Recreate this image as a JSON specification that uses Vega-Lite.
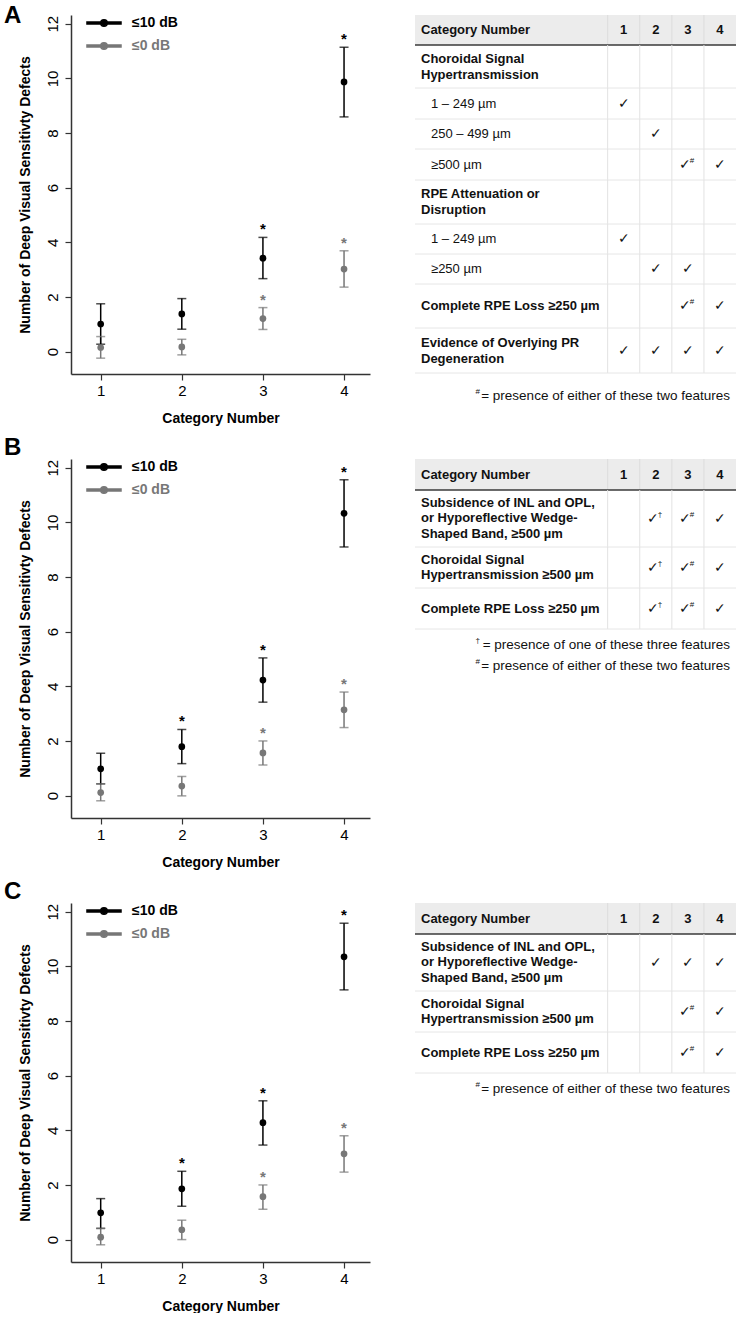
{
"$schema":"https://vega.github.io/schema/vega-lite/v6.json",
"padding":{"left":4,"top":3,"right":0,"bottom":0},
"background":"#ffffff",
"config":{"view":{"stroke":null},"font":"Liberation Sans","axis":{"domainColor":"#333333","tickColor":"#333333","labelColor":"#000000","titleColor":"#000000","grid":false},"title":{"color":"#000000"}},
"datasets":{
"pts":[
{"p":"A","cat":1,"s":"≤0 dB","m":0.15,"lo":-0.24,"hi":0.55,"sig":false},
{"p":"A","cat":2,"s":"≤0 dB","m":0.17,"lo":-0.12,"hi":0.45,"sig":false},
{"p":"A","cat":3,"s":"≤0 dB","m":1.21,"lo":0.81,"hi":1.61,"sig":true},
{"p":"A","cat":4,"s":"≤0 dB","m":3.02,"lo":2.36,"hi":3.69,"sig":true},
{"p":"A","cat":1,"s":"≤10 dB","m":1.01,"lo":0.27,"hi":1.75,"sig":false},
{"p":"A","cat":2,"s":"≤10 dB","m":1.38,"lo":0.82,"hi":1.94,"sig":false},
{"p":"A","cat":3,"s":"≤10 dB","m":3.42,"lo":2.67,"hi":4.18,"sig":true},
{"p":"A","cat":4,"s":"≤10 dB","m":9.87,"lo":8.59,"hi":11.14,"sig":true},
{"p":"B","cat":1,"s":"≤0 dB","m":0.11,"lo":-0.19,"hi":0.43,"sig":false},
{"p":"B","cat":2,"s":"≤0 dB","m":0.35,"lo":-0.01,"hi":0.70,"sig":false},
{"p":"B","cat":3,"s":"≤0 dB","m":1.56,"lo":1.12,"hi":2.0,"sig":true},
{"p":"B","cat":4,"s":"≤0 dB","m":3.14,"lo":2.49,"hi":3.79,"sig":true},
{"p":"B","cat":1,"s":"≤10 dB","m":0.98,"lo":0.43,"hi":1.55,"sig":false},
{"p":"B","cat":2,"s":"≤10 dB","m":1.79,"lo":1.17,"hi":2.42,"sig":true},
{"p":"B","cat":3,"s":"≤10 dB","m":4.23,"lo":3.42,"hi":5.04,"sig":true},
{"p":"B","cat":4,"s":"≤10 dB","m":10.33,"lo":9.10,"hi":11.56,"sig":true},
{"p":"C","cat":1,"s":"≤0 dB","m":0.09,"lo":-0.19,"hi":0.41,"sig":false},
{"p":"C","cat":2,"s":"≤0 dB","m":0.36,"lo":0.0,"hi":0.71,"sig":false},
{"p":"C","cat":3,"s":"≤0 dB","m":1.57,"lo":1.11,"hi":2.0,"sig":true},
{"p":"C","cat":4,"s":"≤0 dB","m":3.14,"lo":2.47,"hi":3.80,"sig":true},
{"p":"C","cat":1,"s":"≤10 dB","m":0.98,"lo":0.41,"hi":1.50,"sig":false},
{"p":"C","cat":2,"s":"≤10 dB","m":1.86,"lo":1.22,"hi":2.50,"sig":true},
{"p":"C","cat":3,"s":"≤10 dB","m":4.28,"lo":3.46,"hi":5.08,"sig":true},
{"p":"C","cat":4,"s":"≤10 dB","m":10.35,"lo":9.14,"hi":11.58,"sig":true}
],
"tA":[
{"r":0,"c":0,"t":"Category Number"},{"r":0,"c":1,"t":"1"},{"r":0,"c":2,"t":"2"},{"r":0,"c":3,"t":"3"},{"r":0,"c":4,"t":"4"},
{"r":1,"c":0,"t":"Choroidal Signal|Hypertransmission"},{"r":1,"c":1},{"r":1,"c":2},{"r":1,"c":3},{"r":1,"c":4},
{"r":2,"c":0,"t":"1 – 249 µm"},{"r":2,"c":1,"t":"✓"},{"r":2,"c":2},{"r":2,"c":3},{"r":2,"c":4},
{"r":3,"c":0,"t":"250 – 499 µm"},{"r":3,"c":1},{"r":3,"c":2,"t":"✓"},{"r":3,"c":3},{"r":3,"c":4},
{"r":4,"c":0,"t":"≥500 µm"},{"r":4,"c":1},{"r":4,"c":2},{"r":4,"c":3,"t":"✓","s":"#"},{"r":4,"c":4,"t":"✓"},
{"r":5,"c":0,"t":"RPE Attenuation or|Disruption"},{"r":5,"c":1},{"r":5,"c":2},{"r":5,"c":3},{"r":5,"c":4},
{"r":6,"c":0,"t":"1 – 249 µm"},{"r":6,"c":1,"t":"✓"},{"r":6,"c":2},{"r":6,"c":3},{"r":6,"c":4},
{"r":7,"c":0,"t":"≥250 µm"},{"r":7,"c":1},{"r":7,"c":2,"t":"✓"},{"r":7,"c":3,"t":"✓"},{"r":7,"c":4},
{"r":8,"c":0,"t":"Complete RPE Loss ≥250 µm"},{"r":8,"c":1},{"r":8,"c":2},{"r":8,"c":3,"t":"✓","s":"#"},{"r":8,"c":4,"t":"✓"},
{"r":9,"c":0,"t":"Evidence of Overlying PR|Degeneration"},{"r":9,"c":1,"t":"✓"},{"r":9,"c":2,"t":"✓"},{"r":9,"c":3,"t":"✓"},{"r":9,"c":4,"t":"✓"}
],
"tB":[
{"r":0,"c":0,"t":"Category Number"},{"r":0,"c":1,"t":"1"},{"r":0,"c":2,"t":"2"},{"r":0,"c":3,"t":"3"},{"r":0,"c":4,"t":"4"},
{"r":1,"c":0,"t":"Subsidence of INL and OPL,|or Hyporeflective Wedge-|Shaped Band, ≥500 µm"},{"r":1,"c":1},{"r":1,"c":2,"t":"✓","s":"†"},{"r":1,"c":3,"t":"✓","s":"#"},{"r":1,"c":4,"t":"✓"},
{"r":2,"c":0,"t":"Choroidal Signal|Hypertransmission ≥500 µm"},{"r":2,"c":1},{"r":2,"c":2,"t":"✓","s":"†"},{"r":2,"c":3,"t":"✓","s":"#"},{"r":2,"c":4,"t":"✓"},
{"r":3,"c":0,"t":"Complete RPE Loss ≥250 µm"},{"r":3,"c":1},{"r":3,"c":2,"t":"✓","s":"†"},{"r":3,"c":3,"t":"✓","s":"#"},{"r":3,"c":4,"t":"✓"}
],
"tC":[
{"r":0,"c":0,"t":"Category Number"},{"r":0,"c":1,"t":"1"},{"r":0,"c":2,"t":"2"},{"r":0,"c":3,"t":"3"},{"r":0,"c":4,"t":"4"},
{"r":1,"c":0,"t":"Subsidence of INL and OPL,|or Hyporeflective Wedge-|Shaped Band, ≥500 µm"},{"r":1,"c":1},{"r":1,"c":2,"t":"✓"},{"r":1,"c":3,"t":"✓"},{"r":1,"c":4,"t":"✓"},
{"r":2,"c":0,"t":"Choroidal Signal|Hypertransmission ≥500 µm"},{"r":2,"c":1},{"r":2,"c":2},{"r":2,"c":3,"t":"✓","s":"#"},{"r":2,"c":4,"t":"✓"},
{"r":3,"c":0,"t":"Complete RPE Loss ≥250 µm"},{"r":3,"c":1},{"r":3,"c":2},{"r":3,"c":3,"t":"✓","s":"#"},{"r":3,"c":4,"t":"✓"}
],
"fn":[
{"tb":"A","i":1,"m":"#","t":"= presence of either of these two features"},
{"tb":"B","i":1,"m":"†","t":"= presence of one of these three features"},
{"tb":"B","i":2,"m":"#","t":"= presence of either of these two features"},
{"tb":"C","i":1,"m":"#","t":"= presence of either of these two features"}
]
},
"spacing":10,
"resolve":{"scale":{"color":"independent"},"legend":{"color":"independent"}},
"vconcat":[
{"title":{"text":"A","anchor":"start","fontSize":24,"fontWeight":"bold","dx":-14,"offset":-13},
"spacing":44,
"resolve":{"scale":{"color":"independent"},"legend":{"color":"independent"}},
"hconcat":[
{"width":299,"height":359,"data":{"name":"pts"},"transform":[{"filter":"datum.p=='A'"}],
"encoding":{
"x":{"field":"cat","type":"quantitative","title":"Category Number","scale":{"domain":[0.634,4.32],"nice":false,"zero":false},"axis":{"values":[1,2,3,4],"format":"d","labelAngle":0,"labelPadding":3,"tickSize":6,"titlePadding":13,"labelFontSize":15,"titleFontSize":14,"titleFontWeight":"bold","domainWidth":1.5,"tickWidth":1.2}},
"color":{"field":"s","type":"nominal","scale":{"domain":["≤10 dB","≤0 dB"],"range":["#000000","#777777"]},"legend":{"title":null,"orient":"top-left","offset":0,"padding":0,"symbolType":"M1.14,-0.13H3.1V0.13H1.14Z M4.04,-0.13H6V0.13H4.04Z M4.04,0A0.47,0.47 0 1,1 3.1,0A0.47,0.47 0 1,1 4.04,0Z","symbolSize":196,"labelFontSize":14,"labelFontWeight":"bold","labelOffset":45,"rowPadding":8,"encode":{"symbols":{"update":{"fill":{"signal":"datum.value=='≤0 dB'?'#777777':'#000000'"},"stroke":{"value":"transparent"},"opacity":{"value":1}}},"labels":{"update":{"fill":{"signal":"datum.value=='≤0 dB'?'#777777':'#000000'"}}}}}}
},
"layer":[
{"mark":{"type":"rule","strokeWidth":1.5},"encoding":{"y":{"field":"lo","type":"quantitative","title":"Number of Deep Visual Sensitivty Defects","scale":{"domain":[-0.82,12.32],"nice":false,"zero":false},"axis":{"values":[0,2,4,6,8,10,12],"labelAngle":-90,"labelAlign":"center","labelBaseline":"bottom","labelPadding":5,"tickSize":6,"titlePadding":13,"labelFontSize":15,"titleFontSize":14,"titleFontWeight":"bold","domainWidth":1.5,"tickWidth":1.2}},"y2":{"field":"hi"}}},
{"mark":{"type":"tick","orient":"horizontal","size":9,"thickness":1.5},"encoding":{"y":{"field":"lo","type":"quantitative","title":"Number of Deep Visual Sensitivty Defects","scale":{"domain":[-0.82,12.32],"nice":false,"zero":false}}}},
{"mark":{"type":"tick","orient":"horizontal","size":9,"thickness":1.5},"encoding":{"y":{"field":"hi","type":"quantitative","title":"Number of Deep Visual Sensitivty Defects","scale":{"domain":[-0.82,12.32],"nice":false,"zero":false}}}},
{"mark":{"type":"point","filled":true,"size":45,"opacity":1},"encoding":{"y":{"field":"m","type":"quantitative","title":"Number of Deep Visual Sensitivty Defects","scale":{"domain":[-0.82,12.32],"nice":false,"zero":false}}}},
{"transform":[{"filter":"datum.sig"}],"mark":{"type":"text","text":"*","fontSize":15,"fontWeight":"bold","dy":-8},"encoding":{"y":{"field":"hi","type":"quantitative","title":"Number of Deep Visual Sensitivty Defects","scale":{"domain":[-0.82,12.32],"nice":false,"zero":false}}}}
]},
{"data":{"name":"tA"},"spacing":0,"bounds":"flush","vconcat":[
{"width":321,"height":30,"transform":[{"filter":"datum.r==0"}],"layer":[
{"transform":[{"filter":"datum.c==0"}],"mark":{"type":"rect","color":"#ececec"},"encoding":{"x":{"datum":-5.5,"type":"quantitative","scale":{"domain":[-5.5,4.5]},"axis":null},"x2":{"datum":4.5},"y":{"datum":0,"type":"quantitative","scale":{"domain":[0,1]},"axis":null},"y2":{"datum":1}}},
{"transform":[{"filter":"datum.c>0"}],"mark":{"type":"rule","color":"#dcdcdc","xOffset":-16},"encoding":{"x":{"field":"c","type":"quantitative","scale":{"domain":[-5.5,4.5]},"axis":null},"y":{"datum":0,"type":"quantitative","scale":{"domain":[0,1]},"axis":null},"y2":{"datum":1}}},
{"transform":[{"filter":"datum.c==0"}],"mark":{"type":"rule","color":"#3a3a3a","strokeWidth":1.5},"encoding":{"x":{"datum":-5.5,"type":"quantitative","scale":{"domain":[-5.5,4.5]},"axis":null},"x2":{"datum":4.5},"y":{"datum":0,"type":"quantitative","scale":{"domain":[0,1]},"axis":null}}},
{"transform":[{"filter":"datum.c==0"}],"mark":{"type":"text","align":"left","dx":6,"fontSize":13,"fontWeight":"bold","color":"#111111"},"encoding":{"x":{"datum":-5.5,"type":"quantitative","scale":{"domain":[-5.5,4.5]},"axis":null},"y":{"datum":0.5,"type":"quantitative","scale":{"domain":[0,1]},"axis":null},"text":{"field":"t","type":"nominal"}}},
{"transform":[{"filter":"datum.c>0"}],"mark":{"type":"text","fontSize":13,"fontWeight":"bold","color":"#111111"},"encoding":{"x":{"field":"c","type":"quantitative","scale":{"domain":[-5.5,4.5]},"axis":null},"y":{"datum":0.5,"type":"quantitative","scale":{"domain":[0,1]},"axis":null},"text":{"field":"t","type":"nominal"}}}
]},
{"width":321,"height":43,"transform":[{"filter":"datum.r==1"}],"layer":[
{"transform":[{"filter":"datum.c>0"}],"mark":{"type":"rule","color":"#e2e2e2","xOffset":-16},"encoding":{"x":{"field":"c","type":"quantitative","scale":{"domain":[-5.5,4.5]},"axis":null},"y":{"datum":0,"type":"quantitative","scale":{"domain":[0,1]},"axis":null},"y2":{"datum":1}}},
{"transform":[{"filter":"datum.c==0"}],"mark":{"type":"rule","color":"#e6e6e6"},"encoding":{"x":{"datum":-5.5,"type":"quantitative","scale":{"domain":[-5.5,4.5]},"axis":null},"x2":{"datum":4.5},"y":{"datum":0,"type":"quantitative","scale":{"domain":[0,1]},"axis":null}}},
{"transform":[{"filter":"datum.c==0"}],"mark":{"type":"text","align":"left","dx":6,"dy":-8,"fontSize":13,"fontWeight":"bold","lineHeight":16,"lineBreak":"|","color":"#111111"},"encoding":{"x":{"datum":-5.5,"type":"quantitative","scale":{"domain":[-5.5,4.5]},"axis":null},"y":{"datum":0.5,"type":"quantitative","scale":{"domain":[0,1]},"axis":null},"text":{"field":"t","type":"nominal"}}}
]},
{"width":321,"height":31,"transform":[{"filter":"datum.r==2"}],"layer":[
{"transform":[{"filter":"datum.c>0"}],"mark":{"type":"rule","color":"#e2e2e2","xOffset":-16},"encoding":{"x":{"field":"c","type":"quantitative","scale":{"domain":[-5.5,4.5]},"axis":null},"y":{"datum":0,"type":"quantitative","scale":{"domain":[0,1]},"axis":null},"y2":{"datum":1}}},
{"transform":[{"filter":"datum.c==0"}],"mark":{"type":"rule","color":"#e6e6e6"},"encoding":{"x":{"datum":-5.5,"type":"quantitative","scale":{"domain":[-5.5,4.5]},"axis":null},"x2":{"datum":4.5},"y":{"datum":0,"type":"quantitative","scale":{"domain":[0,1]},"axis":null}}},
{"transform":[{"filter":"datum.c==0"}],"mark":{"type":"text","align":"left","dx":16,"fontSize":13,"color":"#111111"},"encoding":{"x":{"datum":-5.5,"type":"quantitative","scale":{"domain":[-5.5,4.5]},"axis":null},"y":{"datum":0.5,"type":"quantitative","scale":{"domain":[0,1]},"axis":null},"text":{"field":"t","type":"nominal"}}},
{"transform":[{"filter":"datum.c>0 && datum.t && !datum.s"}],"mark":{"type":"text","fontSize":14,"color":"#111111"},"encoding":{"x":{"field":"c","type":"quantitative","scale":{"domain":[-5.5,4.5]},"axis":null},"y":{"datum":0.5,"type":"quantitative","scale":{"domain":[0,1]},"axis":null},"text":{"field":"t","type":"nominal"}}}
]},
{"width":321,"height":30,"transform":[{"filter":"datum.r==3"}],"layer":[
{"transform":[{"filter":"datum.c>0"}],"mark":{"type":"rule","color":"#e2e2e2","xOffset":-16},"encoding":{"x":{"field":"c","type":"quantitative","scale":{"domain":[-5.5,4.5]},"axis":null},"y":{"datum":0,"type":"quantitative","scale":{"domain":[0,1]},"axis":null},"y2":{"datum":1}}},
{"transform":[{"filter":"datum.c==0"}],"mark":{"type":"rule","color":"#e6e6e6"},"encoding":{"x":{"datum":-5.5,"type":"quantitative","scale":{"domain":[-5.5,4.5]},"axis":null},"x2":{"datum":4.5},"y":{"datum":0,"type":"quantitative","scale":{"domain":[0,1]},"axis":null}}},
{"transform":[{"filter":"datum.c==0"}],"mark":{"type":"text","align":"left","dx":16,"fontSize":13,"color":"#111111"},"encoding":{"x":{"datum":-5.5,"type":"quantitative","scale":{"domain":[-5.5,4.5]},"axis":null},"y":{"datum":0.5,"type":"quantitative","scale":{"domain":[0,1]},"axis":null},"text":{"field":"t","type":"nominal"}}},
{"transform":[{"filter":"datum.c>0 && datum.t && !datum.s"}],"mark":{"type":"text","fontSize":14,"color":"#111111"},"encoding":{"x":{"field":"c","type":"quantitative","scale":{"domain":[-5.5,4.5]},"axis":null},"y":{"datum":0.5,"type":"quantitative","scale":{"domain":[0,1]},"axis":null},"text":{"field":"t","type":"nominal"}}}
]},
{"width":321,"height":31,"transform":[{"filter":"datum.r==4"}],"layer":[
{"transform":[{"filter":"datum.c>0"}],"mark":{"type":"rule","color":"#e2e2e2","xOffset":-16},"encoding":{"x":{"field":"c","type":"quantitative","scale":{"domain":[-5.5,4.5]},"axis":null},"y":{"datum":0,"type":"quantitative","scale":{"domain":[0,1]},"axis":null},"y2":{"datum":1}}},
{"transform":[{"filter":"datum.c==0"}],"mark":{"type":"rule","color":"#e6e6e6"},"encoding":{"x":{"datum":-5.5,"type":"quantitative","scale":{"domain":[-5.5,4.5]},"axis":null},"x2":{"datum":4.5},"y":{"datum":0,"type":"quantitative","scale":{"domain":[0,1]},"axis":null}}},
{"transform":[{"filter":"datum.c==0"}],"mark":{"type":"text","align":"left","dx":16,"fontSize":13,"color":"#111111"},"encoding":{"x":{"datum":-5.5,"type":"quantitative","scale":{"domain":[-5.5,4.5]},"axis":null},"y":{"datum":0.5,"type":"quantitative","scale":{"domain":[0,1]},"axis":null},"text":{"field":"t","type":"nominal"}}},
{"transform":[{"filter":"datum.c>0 && datum.t && !datum.s"}],"mark":{"type":"text","fontSize":14,"color":"#111111"},"encoding":{"x":{"field":"c","type":"quantitative","scale":{"domain":[-5.5,4.5]},"axis":null},"y":{"datum":0.5,"type":"quantitative","scale":{"domain":[0,1]},"axis":null},"text":{"field":"t","type":"nominal"}}},
{"transform":[{"filter":"datum.s"}],"mark":{"type":"text","fontSize":14,"dx":-3,"color":"#111111"},"encoding":{"x":{"field":"c","type":"quantitative","scale":{"domain":[-5.5,4.5]},"axis":null},"y":{"datum":0.5,"type":"quantitative","scale":{"domain":[0,1]},"axis":null},"text":{"field":"t","type":"nominal"}}},
{"transform":[{"filter":"datum.s"}],"mark":{"type":"text","fontSize":8,"align":"left","dx":2,"dy":-4,"color":"#111111"},"encoding":{"x":{"field":"c","type":"quantitative","scale":{"domain":[-5.5,4.5]},"axis":null},"y":{"datum":0.5,"type":"quantitative","scale":{"domain":[0,1]},"axis":null},"text":{"field":"s","type":"nominal"}}}
]},
{"width":321,"height":44,"transform":[{"filter":"datum.r==5"}],"layer":[
{"transform":[{"filter":"datum.c>0"}],"mark":{"type":"rule","color":"#e2e2e2","xOffset":-16},"encoding":{"x":{"field":"c","type":"quantitative","scale":{"domain":[-5.5,4.5]},"axis":null},"y":{"datum":0,"type":"quantitative","scale":{"domain":[0,1]},"axis":null},"y2":{"datum":1}}},
{"transform":[{"filter":"datum.c==0"}],"mark":{"type":"rule","color":"#e6e6e6"},"encoding":{"x":{"datum":-5.5,"type":"quantitative","scale":{"domain":[-5.5,4.5]},"axis":null},"x2":{"datum":4.5},"y":{"datum":0,"type":"quantitative","scale":{"domain":[0,1]},"axis":null}}},
{"transform":[{"filter":"datum.c==0"}],"mark":{"type":"text","align":"left","dx":6,"dy":-8,"fontSize":13,"fontWeight":"bold","lineHeight":16,"lineBreak":"|","color":"#111111"},"encoding":{"x":{"datum":-5.5,"type":"quantitative","scale":{"domain":[-5.5,4.5]},"axis":null},"y":{"datum":0.5,"type":"quantitative","scale":{"domain":[0,1]},"axis":null},"text":{"field":"t","type":"nominal"}}}
]},
{"width":321,"height":30,"transform":[{"filter":"datum.r==6"}],"layer":[
{"transform":[{"filter":"datum.c>0"}],"mark":{"type":"rule","color":"#e2e2e2","xOffset":-16},"encoding":{"x":{"field":"c","type":"quantitative","scale":{"domain":[-5.5,4.5]},"axis":null},"y":{"datum":0,"type":"quantitative","scale":{"domain":[0,1]},"axis":null},"y2":{"datum":1}}},
{"transform":[{"filter":"datum.c==0"}],"mark":{"type":"rule","color":"#e6e6e6"},"encoding":{"x":{"datum":-5.5,"type":"quantitative","scale":{"domain":[-5.5,4.5]},"axis":null},"x2":{"datum":4.5},"y":{"datum":0,"type":"quantitative","scale":{"domain":[0,1]},"axis":null}}},
{"transform":[{"filter":"datum.c==0"}],"mark":{"type":"text","align":"left","dx":16,"fontSize":13,"color":"#111111"},"encoding":{"x":{"datum":-5.5,"type":"quantitative","scale":{"domain":[-5.5,4.5]},"axis":null},"y":{"datum":0.5,"type":"quantitative","scale":{"domain":[0,1]},"axis":null},"text":{"field":"t","type":"nominal"}}},
{"transform":[{"filter":"datum.c>0 && datum.t && !datum.s"}],"mark":{"type":"text","fontSize":14,"color":"#111111"},"encoding":{"x":{"field":"c","type":"quantitative","scale":{"domain":[-5.5,4.5]},"axis":null},"y":{"datum":0.5,"type":"quantitative","scale":{"domain":[0,1]},"axis":null},"text":{"field":"t","type":"nominal"}}}
]},
{"width":321,"height":30,"transform":[{"filter":"datum.r==7"}],"layer":[
{"transform":[{"filter":"datum.c>0"}],"mark":{"type":"rule","color":"#e2e2e2","xOffset":-16},"encoding":{"x":{"field":"c","type":"quantitative","scale":{"domain":[-5.5,4.5]},"axis":null},"y":{"datum":0,"type":"quantitative","scale":{"domain":[0,1]},"axis":null},"y2":{"datum":1}}},
{"transform":[{"filter":"datum.c==0"}],"mark":{"type":"rule","color":"#e6e6e6"},"encoding":{"x":{"datum":-5.5,"type":"quantitative","scale":{"domain":[-5.5,4.5]},"axis":null},"x2":{"datum":4.5},"y":{"datum":0,"type":"quantitative","scale":{"domain":[0,1]},"axis":null}}},
{"transform":[{"filter":"datum.c==0"}],"mark":{"type":"text","align":"left","dx":16,"fontSize":13,"color":"#111111"},"encoding":{"x":{"datum":-5.5,"type":"quantitative","scale":{"domain":[-5.5,4.5]},"axis":null},"y":{"datum":0.5,"type":"quantitative","scale":{"domain":[0,1]},"axis":null},"text":{"field":"t","type":"nominal"}}},
{"transform":[{"filter":"datum.c>0 && datum.t && !datum.s"}],"mark":{"type":"text","fontSize":14,"color":"#111111"},"encoding":{"x":{"field":"c","type":"quantitative","scale":{"domain":[-5.5,4.5]},"axis":null},"y":{"datum":0.5,"type":"quantitative","scale":{"domain":[0,1]},"axis":null},"text":{"field":"t","type":"nominal"}}}
]},
{"width":321,"height":44,"transform":[{"filter":"datum.r==8"}],"layer":[
{"transform":[{"filter":"datum.c>0"}],"mark":{"type":"rule","color":"#e2e2e2","xOffset":-16},"encoding":{"x":{"field":"c","type":"quantitative","scale":{"domain":[-5.5,4.5]},"axis":null},"y":{"datum":0,"type":"quantitative","scale":{"domain":[0,1]},"axis":null},"y2":{"datum":1}}},
{"transform":[{"filter":"datum.c==0"}],"mark":{"type":"rule","color":"#e6e6e6"},"encoding":{"x":{"datum":-5.5,"type":"quantitative","scale":{"domain":[-5.5,4.5]},"axis":null},"x2":{"datum":4.5},"y":{"datum":0,"type":"quantitative","scale":{"domain":[0,1]},"axis":null}}},
{"transform":[{"filter":"datum.c==0"}],"mark":{"type":"text","align":"left","dx":6,"fontSize":13,"fontWeight":"bold","color":"#111111"},"encoding":{"x":{"datum":-5.5,"type":"quantitative","scale":{"domain":[-5.5,4.5]},"axis":null},"y":{"datum":0.5,"type":"quantitative","scale":{"domain":[0,1]},"axis":null},"text":{"field":"t","type":"nominal"}}},
{"transform":[{"filter":"datum.c>0 && datum.t && !datum.s"}],"mark":{"type":"text","fontSize":14,"color":"#111111"},"encoding":{"x":{"field":"c","type":"quantitative","scale":{"domain":[-5.5,4.5]},"axis":null},"y":{"datum":0.5,"type":"quantitative","scale":{"domain":[0,1]},"axis":null},"text":{"field":"t","type":"nominal"}}},
{"transform":[{"filter":"datum.s"}],"mark":{"type":"text","fontSize":14,"dx":-3,"color":"#111111"},"encoding":{"x":{"field":"c","type":"quantitative","scale":{"domain":[-5.5,4.5]},"axis":null},"y":{"datum":0.5,"type":"quantitative","scale":{"domain":[0,1]},"axis":null},"text":{"field":"t","type":"nominal"}}},
{"transform":[{"filter":"datum.s"}],"mark":{"type":"text","fontSize":8,"align":"left","dx":2,"dy":-4,"color":"#111111"},"encoding":{"x":{"field":"c","type":"quantitative","scale":{"domain":[-5.5,4.5]},"axis":null},"y":{"datum":0.5,"type":"quantitative","scale":{"domain":[0,1]},"axis":null},"text":{"field":"s","type":"nominal"}}}
]},
{"width":321,"height":45,"transform":[{"filter":"datum.r==9"}],"layer":[
{"transform":[{"filter":"datum.c>0"}],"mark":{"type":"rule","color":"#e2e2e2","xOffset":-16},"encoding":{"x":{"field":"c","type":"quantitative","scale":{"domain":[-5.5,4.5]},"axis":null},"y":{"datum":0,"type":"quantitative","scale":{"domain":[0,1]},"axis":null},"y2":{"datum":1}}},
{"transform":[{"filter":"datum.c==0"}],"mark":{"type":"rule","color":"#e6e6e6"},"encoding":{"x":{"datum":-5.5,"type":"quantitative","scale":{"domain":[-5.5,4.5]},"axis":null},"x2":{"datum":4.5},"y":{"datum":0,"type":"quantitative","scale":{"domain":[0,1]},"axis":null}}},
{"transform":[{"filter":"datum.c==0"}],"mark":{"type":"text","align":"left","dx":6,"dy":-8,"fontSize":13,"fontWeight":"bold","lineHeight":16,"lineBreak":"|","color":"#111111"},"encoding":{"x":{"datum":-5.5,"type":"quantitative","scale":{"domain":[-5.5,4.5]},"axis":null},"y":{"datum":0.5,"type":"quantitative","scale":{"domain":[0,1]},"axis":null},"text":{"field":"t","type":"nominal"}}},
{"transform":[{"filter":"datum.c>0 && datum.t && !datum.s"}],"mark":{"type":"text","fontSize":14,"color":"#111111"},"encoding":{"x":{"field":"c","type":"quantitative","scale":{"domain":[-5.5,4.5]},"axis":null},"y":{"datum":0.5,"type":"quantitative","scale":{"domain":[0,1]},"axis":null},"text":{"field":"t","type":"nominal"}}}
]},
{"width":321,"height":46,"data":{"name":"fn"},"transform":[{"filter":"datum.tb=='A'"}],"layer":[
{"mark":{"type":"text","align":"right","dx":-6,"fontSize":13.5,"color":"#111111"},"encoding":{"x":{"datum":4.5,"type":"quantitative","scale":{"domain":[-5.5,4.5]},"axis":null},"y":{"field":"i","type":"ordinal","scale":{"type":"point","padding":0.5},"axis":null},"text":{"field":"t","type":"nominal"}}},
{"mark":{"type":"text","align":"right","dx":-256,"dy":-4,"fontSize":8,"color":"#111111"},"encoding":{"x":{"datum":4.5,"type":"quantitative","scale":{"domain":[-5.5,4.5]},"axis":null},"y":{"field":"i","type":"ordinal","scale":{"type":"point","padding":0.5},"axis":null},"text":{"field":"m","type":"nominal"}}}
]}
]}
]},
{"title":{"text":"B","anchor":"start","fontSize":24,"fontWeight":"bold","dx":-14,"offset":-1},
"spacing":44,
"resolve":{"scale":{"color":"independent"},"legend":{"color":"independent"}},
"hconcat":[
{"width":299,"height":359,"data":{"name":"pts"},"transform":[{"filter":"datum.p=='B'"}],
"encoding":{
"x":{"field":"cat","type":"quantitative","title":"Category Number","scale":{"domain":[0.634,4.32],"nice":false,"zero":false},"axis":{"values":[1,2,3,4],"format":"d","labelAngle":0,"labelPadding":3,"tickSize":6,"titlePadding":13,"labelFontSize":15,"titleFontSize":14,"titleFontWeight":"bold","domainWidth":1.5,"tickWidth":1.2}},
"color":{"field":"s","type":"nominal","scale":{"domain":["≤10 dB","≤0 dB"],"range":["#000000","#777777"]},"legend":{"title":null,"orient":"top-left","offset":0,"padding":0,"symbolType":"M1.14,-0.13H3.1V0.13H1.14Z M4.04,-0.13H6V0.13H4.04Z M4.04,0A0.47,0.47 0 1,1 3.1,0A0.47,0.47 0 1,1 4.04,0Z","symbolSize":196,"labelFontSize":14,"labelFontWeight":"bold","labelOffset":45,"rowPadding":8,"encode":{"symbols":{"update":{"fill":{"signal":"datum.value=='≤0 dB'?'#777777':'#000000'"},"stroke":{"value":"transparent"},"opacity":{"value":1}}},"labels":{"update":{"fill":{"signal":"datum.value=='≤0 dB'?'#777777':'#000000'"}}}}}}
},
"layer":[
{"mark":{"type":"rule","strokeWidth":1.5},"encoding":{"y":{"field":"lo","type":"quantitative","title":"Number of Deep Visual Sensitivty Defects","scale":{"domain":[-0.82,12.32],"nice":false,"zero":false},"axis":{"values":[0,2,4,6,8,10,12],"labelAngle":-90,"labelAlign":"center","labelBaseline":"bottom","labelPadding":5,"tickSize":6,"titlePadding":13,"labelFontSize":15,"titleFontSize":14,"titleFontWeight":"bold","domainWidth":1.5,"tickWidth":1.2}},"y2":{"field":"hi"}}},
{"mark":{"type":"tick","orient":"horizontal","size":9,"thickness":1.5},"encoding":{"y":{"field":"lo","type":"quantitative","title":"Number of Deep Visual Sensitivty Defects","scale":{"domain":[-0.82,12.32],"nice":false,"zero":false}}}},
{"mark":{"type":"tick","orient":"horizontal","size":9,"thickness":1.5},"encoding":{"y":{"field":"hi","type":"quantitative","title":"Number of Deep Visual Sensitivty Defects","scale":{"domain":[-0.82,12.32],"nice":false,"zero":false}}}},
{"mark":{"type":"point","filled":true,"size":45,"opacity":1},"encoding":{"y":{"field":"m","type":"quantitative","title":"Number of Deep Visual Sensitivty Defects","scale":{"domain":[-0.82,12.32],"nice":false,"zero":false}}}},
{"transform":[{"filter":"datum.sig"}],"mark":{"type":"text","text":"*","fontSize":15,"fontWeight":"bold","dy":-8},"encoding":{"y":{"field":"hi","type":"quantitative","title":"Number of Deep Visual Sensitivty Defects","scale":{"domain":[-0.82,12.32],"nice":false,"zero":false}}}}
]},
{"data":{"name":"tB"},"spacing":0,"bounds":"flush","vconcat":[
{"width":321,"height":31,"transform":[{"filter":"datum.r==0"}],"layer":[
{"transform":[{"filter":"datum.c==0"}],"mark":{"type":"rect","color":"#ececec"},"encoding":{"x":{"datum":-5.5,"type":"quantitative","scale":{"domain":[-5.5,4.5]},"axis":null},"x2":{"datum":4.5},"y":{"datum":0,"type":"quantitative","scale":{"domain":[0,1]},"axis":null},"y2":{"datum":1}}},
{"transform":[{"filter":"datum.c>0"}],"mark":{"type":"rule","color":"#dcdcdc","xOffset":-16},"encoding":{"x":{"field":"c","type":"quantitative","scale":{"domain":[-5.5,4.5]},"axis":null},"y":{"datum":0,"type":"quantitative","scale":{"domain":[0,1]},"axis":null},"y2":{"datum":1}}},
{"transform":[{"filter":"datum.c==0"}],"mark":{"type":"rule","color":"#3a3a3a","strokeWidth":1.5},"encoding":{"x":{"datum":-5.5,"type":"quantitative","scale":{"domain":[-5.5,4.5]},"axis":null},"x2":{"datum":4.5},"y":{"datum":0,"type":"quantitative","scale":{"domain":[0,1]},"axis":null}}},
{"transform":[{"filter":"datum.c==0"}],"mark":{"type":"text","align":"left","dx":6,"fontSize":13,"fontWeight":"bold","color":"#111111"},"encoding":{"x":{"datum":-5.5,"type":"quantitative","scale":{"domain":[-5.5,4.5]},"axis":null},"y":{"datum":0.5,"type":"quantitative","scale":{"domain":[0,1]},"axis":null},"text":{"field":"t","type":"nominal"}}},
{"transform":[{"filter":"datum.c>0"}],"mark":{"type":"text","fontSize":13,"fontWeight":"bold","color":"#111111"},"encoding":{"x":{"field":"c","type":"quantitative","scale":{"domain":[-5.5,4.5]},"axis":null},"y":{"datum":0.5,"type":"quantitative","scale":{"domain":[0,1]},"axis":null},"text":{"field":"t","type":"nominal"}}}
]},
{"width":321,"height":57,"transform":[{"filter":"datum.r==1"}],"layer":[
{"transform":[{"filter":"datum.c>0"}],"mark":{"type":"rule","color":"#e2e2e2","xOffset":-16},"encoding":{"x":{"field":"c","type":"quantitative","scale":{"domain":[-5.5,4.5]},"axis":null},"y":{"datum":0,"type":"quantitative","scale":{"domain":[0,1]},"axis":null},"y2":{"datum":1}}},
{"transform":[{"filter":"datum.c==0"}],"mark":{"type":"rule","color":"#e6e6e6"},"encoding":{"x":{"datum":-5.5,"type":"quantitative","scale":{"domain":[-5.5,4.5]},"axis":null},"x2":{"datum":4.5},"y":{"datum":0,"type":"quantitative","scale":{"domain":[0,1]},"axis":null}}},
{"transform":[{"filter":"datum.c==0"}],"mark":{"type":"text","align":"left","dx":6,"dy":-15.6,"fontSize":13,"fontWeight":"bold","lineHeight":15.6,"lineBreak":"|","color":"#111111"},"encoding":{"x":{"datum":-5.5,"type":"quantitative","scale":{"domain":[-5.5,4.5]},"axis":null},"y":{"datum":0.5,"type":"quantitative","scale":{"domain":[0,1]},"axis":null},"text":{"field":"t","type":"nominal"}}},
{"transform":[{"filter":"datum.c>0 && datum.t && !datum.s"}],"mark":{"type":"text","fontSize":14,"color":"#111111"},"encoding":{"x":{"field":"c","type":"quantitative","scale":{"domain":[-5.5,4.5]},"axis":null},"y":{"datum":0.5,"type":"quantitative","scale":{"domain":[0,1]},"axis":null},"text":{"field":"t","type":"nominal"}}},
{"transform":[{"filter":"datum.s"}],"mark":{"type":"text","fontSize":14,"dx":-3,"color":"#111111"},"encoding":{"x":{"field":"c","type":"quantitative","scale":{"domain":[-5.5,4.5]},"axis":null},"y":{"datum":0.5,"type":"quantitative","scale":{"domain":[0,1]},"axis":null},"text":{"field":"t","type":"nominal"}}},
{"transform":[{"filter":"datum.s"}],"mark":{"type":"text","fontSize":8,"align":"left","dx":2,"dy":-4,"color":"#111111"},"encoding":{"x":{"field":"c","type":"quantitative","scale":{"domain":[-5.5,4.5]},"axis":null},"y":{"datum":0.5,"type":"quantitative","scale":{"domain":[0,1]},"axis":null},"text":{"field":"s","type":"nominal"}}}
]},
{"width":321,"height":41,"transform":[{"filter":"datum.r==2"}],"layer":[
{"transform":[{"filter":"datum.c>0"}],"mark":{"type":"rule","color":"#e2e2e2","xOffset":-16},"encoding":{"x":{"field":"c","type":"quantitative","scale":{"domain":[-5.5,4.5]},"axis":null},"y":{"datum":0,"type":"quantitative","scale":{"domain":[0,1]},"axis":null},"y2":{"datum":1}}},
{"transform":[{"filter":"datum.c==0"}],"mark":{"type":"rule","color":"#e6e6e6"},"encoding":{"x":{"datum":-5.5,"type":"quantitative","scale":{"domain":[-5.5,4.5]},"axis":null},"x2":{"datum":4.5},"y":{"datum":0,"type":"quantitative","scale":{"domain":[0,1]},"axis":null}}},
{"transform":[{"filter":"datum.c==0"}],"mark":{"type":"text","align":"left","dx":6,"dy":-7.8,"fontSize":13,"fontWeight":"bold","lineHeight":15.6,"lineBreak":"|","color":"#111111"},"encoding":{"x":{"datum":-5.5,"type":"quantitative","scale":{"domain":[-5.5,4.5]},"axis":null},"y":{"datum":0.5,"type":"quantitative","scale":{"domain":[0,1]},"axis":null},"text":{"field":"t","type":"nominal"}}},
{"transform":[{"filter":"datum.c>0 && datum.t && !datum.s"}],"mark":{"type":"text","fontSize":14,"color":"#111111"},"encoding":{"x":{"field":"c","type":"quantitative","scale":{"domain":[-5.5,4.5]},"axis":null},"y":{"datum":0.5,"type":"quantitative","scale":{"domain":[0,1]},"axis":null},"text":{"field":"t","type":"nominal"}}},
{"transform":[{"filter":"datum.s"}],"mark":{"type":"text","fontSize":14,"dx":-3,"color":"#111111"},"encoding":{"x":{"field":"c","type":"quantitative","scale":{"domain":[-5.5,4.5]},"axis":null},"y":{"datum":0.5,"type":"quantitative","scale":{"domain":[0,1]},"axis":null},"text":{"field":"t","type":"nominal"}}},
{"transform":[{"filter":"datum.s"}],"mark":{"type":"text","fontSize":8,"align":"left","dx":2,"dy":-4,"color":"#111111"},"encoding":{"x":{"field":"c","type":"quantitative","scale":{"domain":[-5.5,4.5]},"axis":null},"y":{"datum":0.5,"type":"quantitative","scale":{"domain":[0,1]},"axis":null},"text":{"field":"s","type":"nominal"}}}
]},
{"width":321,"height":41,"transform":[{"filter":"datum.r==3"}],"layer":[
{"transform":[{"filter":"datum.c>0"}],"mark":{"type":"rule","color":"#e2e2e2","xOffset":-16},"encoding":{"x":{"field":"c","type":"quantitative","scale":{"domain":[-5.5,4.5]},"axis":null},"y":{"datum":0,"type":"quantitative","scale":{"domain":[0,1]},"axis":null},"y2":{"datum":1}}},
{"transform":[{"filter":"datum.c==0"}],"mark":{"type":"rule","color":"#e6e6e6"},"encoding":{"x":{"datum":-5.5,"type":"quantitative","scale":{"domain":[-5.5,4.5]},"axis":null},"x2":{"datum":4.5},"y":{"datum":0,"type":"quantitative","scale":{"domain":[0,1]},"axis":null}}},
{"transform":[{"filter":"datum.c==0"}],"mark":{"type":"text","align":"left","dx":6,"fontSize":13,"fontWeight":"bold","color":"#111111"},"encoding":{"x":{"datum":-5.5,"type":"quantitative","scale":{"domain":[-5.5,4.5]},"axis":null},"y":{"datum":0.5,"type":"quantitative","scale":{"domain":[0,1]},"axis":null},"text":{"field":"t","type":"nominal"}}},
{"transform":[{"filter":"datum.c>0 && datum.t && !datum.s"}],"mark":{"type":"text","fontSize":14,"color":"#111111"},"encoding":{"x":{"field":"c","type":"quantitative","scale":{"domain":[-5.5,4.5]},"axis":null},"y":{"datum":0.5,"type":"quantitative","scale":{"domain":[0,1]},"axis":null},"text":{"field":"t","type":"nominal"}}},
{"transform":[{"filter":"datum.s"}],"mark":{"type":"text","fontSize":14,"dx":-3,"color":"#111111"},"encoding":{"x":{"field":"c","type":"quantitative","scale":{"domain":[-5.5,4.5]},"axis":null},"y":{"datum":0.5,"type":"quantitative","scale":{"domain":[0,1]},"axis":null},"text":{"field":"t","type":"nominal"}}},
{"transform":[{"filter":"datum.s"}],"mark":{"type":"text","fontSize":8,"align":"left","dx":2,"dy":-4,"color":"#111111"},"encoding":{"x":{"field":"c","type":"quantitative","scale":{"domain":[-5.5,4.5]},"axis":null},"y":{"datum":0.5,"type":"quantitative","scale":{"domain":[0,1]},"axis":null},"text":{"field":"s","type":"nominal"}}}
]},
{"width":321,"height":53,"data":{"name":"fn"},"transform":[{"filter":"datum.tb=='B'"}],"layer":[
{"mark":{"type":"text","align":"right","dx":-6,"fontSize":13.5,"color":"#111111"},"encoding":{"x":{"datum":4.5,"type":"quantitative","scale":{"domain":[-5.5,4.5]},"axis":null},"y":{"field":"i","type":"ordinal","scale":{"type":"point","padding":0.71},"axis":null},"text":{"field":"t","type":"nominal"}}},
{"mark":{"type":"text","align":"right","dx":-256,"dy":-4,"fontSize":8,"color":"#111111"},"encoding":{"x":{"datum":4.5,"type":"quantitative","scale":{"domain":[-5.5,4.5]},"axis":null},"y":{"field":"i","type":"ordinal","scale":{"type":"point","padding":0.71},"axis":null},"text":{"field":"m","type":"nominal"}}}
]}
]}
]},
{"title":{"text":"C","anchor":"start","fontSize":24,"fontWeight":"bold","dx":-14,"offset":-1},
"spacing":44,
"resolve":{"scale":{"color":"independent"},"legend":{"color":"independent"}},
"hconcat":[
{"width":299,"height":359,"data":{"name":"pts"},"transform":[{"filter":"datum.p=='C'"}],
"encoding":{
"x":{"field":"cat","type":"quantitative","title":"Category Number","scale":{"domain":[0.634,4.32],"nice":false,"zero":false},"axis":{"values":[1,2,3,4],"format":"d","labelAngle":0,"labelPadding":3,"tickSize":6,"titlePadding":13,"labelFontSize":15,"titleFontSize":14,"titleFontWeight":"bold","domainWidth":1.5,"tickWidth":1.2}},
"color":{"field":"s","type":"nominal","scale":{"domain":["≤10 dB","≤0 dB"],"range":["#000000","#777777"]},"legend":{"title":null,"orient":"top-left","offset":0,"padding":0,"symbolType":"M1.14,-0.13H3.1V0.13H1.14Z M4.04,-0.13H6V0.13H4.04Z M4.04,0A0.47,0.47 0 1,1 3.1,0A0.47,0.47 0 1,1 4.04,0Z","symbolSize":196,"labelFontSize":14,"labelFontWeight":"bold","labelOffset":45,"rowPadding":8,"encode":{"symbols":{"update":{"fill":{"signal":"datum.value=='≤0 dB'?'#777777':'#000000'"},"stroke":{"value":"transparent"},"opacity":{"value":1}}},"labels":{"update":{"fill":{"signal":"datum.value=='≤0 dB'?'#777777':'#000000'"}}}}}}
},
"layer":[
{"mark":{"type":"rule","strokeWidth":1.5},"encoding":{"y":{"field":"lo","type":"quantitative","title":"Number of Deep Visual Sensitivty Defects","scale":{"domain":[-0.82,12.32],"nice":false,"zero":false},"axis":{"values":[0,2,4,6,8,10,12],"labelAngle":-90,"labelAlign":"center","labelBaseline":"bottom","labelPadding":5,"tickSize":6,"titlePadding":13,"labelFontSize":15,"titleFontSize":14,"titleFontWeight":"bold","domainWidth":1.5,"tickWidth":1.2}},"y2":{"field":"hi"}}},
{"mark":{"type":"tick","orient":"horizontal","size":9,"thickness":1.5},"encoding":{"y":{"field":"lo","type":"quantitative","title":"Number of Deep Visual Sensitivty Defects","scale":{"domain":[-0.82,12.32],"nice":false,"zero":false}}}},
{"mark":{"type":"tick","orient":"horizontal","size":9,"thickness":1.5},"encoding":{"y":{"field":"hi","type":"quantitative","title":"Number of Deep Visual Sensitivty Defects","scale":{"domain":[-0.82,12.32],"nice":false,"zero":false}}}},
{"mark":{"type":"point","filled":true,"size":45,"opacity":1},"encoding":{"y":{"field":"m","type":"quantitative","title":"Number of Deep Visual Sensitivty Defects","scale":{"domain":[-0.82,12.32],"nice":false,"zero":false}}}},
{"transform":[{"filter":"datum.sig"}],"mark":{"type":"text","text":"*","fontSize":15,"fontWeight":"bold","dy":-8},"encoding":{"y":{"field":"hi","type":"quantitative","title":"Number of Deep Visual Sensitivty Defects","scale":{"domain":[-0.82,12.32],"nice":false,"zero":false}}}}
]},
{"data":{"name":"tC"},"spacing":0,"bounds":"flush","vconcat":[
{"width":321,"height":31,"transform":[{"filter":"datum.r==0"}],"layer":[
{"transform":[{"filter":"datum.c==0"}],"mark":{"type":"rect","color":"#ececec"},"encoding":{"x":{"datum":-5.5,"type":"quantitative","scale":{"domain":[-5.5,4.5]},"axis":null},"x2":{"datum":4.5},"y":{"datum":0,"type":"quantitative","scale":{"domain":[0,1]},"axis":null},"y2":{"datum":1}}},
{"transform":[{"filter":"datum.c>0"}],"mark":{"type":"rule","color":"#dcdcdc","xOffset":-16},"encoding":{"x":{"field":"c","type":"quantitative","scale":{"domain":[-5.5,4.5]},"axis":null},"y":{"datum":0,"type":"quantitative","scale":{"domain":[0,1]},"axis":null},"y2":{"datum":1}}},
{"transform":[{"filter":"datum.c==0"}],"mark":{"type":"rule","color":"#3a3a3a","strokeWidth":1.5},"encoding":{"x":{"datum":-5.5,"type":"quantitative","scale":{"domain":[-5.5,4.5]},"axis":null},"x2":{"datum":4.5},"y":{"datum":0,"type":"quantitative","scale":{"domain":[0,1]},"axis":null}}},
{"transform":[{"filter":"datum.c==0"}],"mark":{"type":"text","align":"left","dx":6,"fontSize":13,"fontWeight":"bold","color":"#111111"},"encoding":{"x":{"datum":-5.5,"type":"quantitative","scale":{"domain":[-5.5,4.5]},"axis":null},"y":{"datum":0.5,"type":"quantitative","scale":{"domain":[0,1]},"axis":null},"text":{"field":"t","type":"nominal"}}},
{"transform":[{"filter":"datum.c>0"}],"mark":{"type":"text","fontSize":13,"fontWeight":"bold","color":"#111111"},"encoding":{"x":{"field":"c","type":"quantitative","scale":{"domain":[-5.5,4.5]},"axis":null},"y":{"datum":0.5,"type":"quantitative","scale":{"domain":[0,1]},"axis":null},"text":{"field":"t","type":"nominal"}}}
]},
{"width":321,"height":57,"transform":[{"filter":"datum.r==1"}],"layer":[
{"transform":[{"filter":"datum.c>0"}],"mark":{"type":"rule","color":"#e2e2e2","xOffset":-16},"encoding":{"x":{"field":"c","type":"quantitative","scale":{"domain":[-5.5,4.5]},"axis":null},"y":{"datum":0,"type":"quantitative","scale":{"domain":[0,1]},"axis":null},"y2":{"datum":1}}},
{"transform":[{"filter":"datum.c==0"}],"mark":{"type":"rule","color":"#e6e6e6"},"encoding":{"x":{"datum":-5.5,"type":"quantitative","scale":{"domain":[-5.5,4.5]},"axis":null},"x2":{"datum":4.5},"y":{"datum":0,"type":"quantitative","scale":{"domain":[0,1]},"axis":null}}},
{"transform":[{"filter":"datum.c==0"}],"mark":{"type":"text","align":"left","dx":6,"dy":-15.6,"fontSize":13,"fontWeight":"bold","lineHeight":15.6,"lineBreak":"|","color":"#111111"},"encoding":{"x":{"datum":-5.5,"type":"quantitative","scale":{"domain":[-5.5,4.5]},"axis":null},"y":{"datum":0.5,"type":"quantitative","scale":{"domain":[0,1]},"axis":null},"text":{"field":"t","type":"nominal"}}},
{"transform":[{"filter":"datum.c>0 && datum.t && !datum.s"}],"mark":{"type":"text","fontSize":14,"color":"#111111"},"encoding":{"x":{"field":"c","type":"quantitative","scale":{"domain":[-5.5,4.5]},"axis":null},"y":{"datum":0.5,"type":"quantitative","scale":{"domain":[0,1]},"axis":null},"text":{"field":"t","type":"nominal"}}}
]},
{"width":321,"height":41,"transform":[{"filter":"datum.r==2"}],"layer":[
{"transform":[{"filter":"datum.c>0"}],"mark":{"type":"rule","color":"#e2e2e2","xOffset":-16},"encoding":{"x":{"field":"c","type":"quantitative","scale":{"domain":[-5.5,4.5]},"axis":null},"y":{"datum":0,"type":"quantitative","scale":{"domain":[0,1]},"axis":null},"y2":{"datum":1}}},
{"transform":[{"filter":"datum.c==0"}],"mark":{"type":"rule","color":"#e6e6e6"},"encoding":{"x":{"datum":-5.5,"type":"quantitative","scale":{"domain":[-5.5,4.5]},"axis":null},"x2":{"datum":4.5},"y":{"datum":0,"type":"quantitative","scale":{"domain":[0,1]},"axis":null}}},
{"transform":[{"filter":"datum.c==0"}],"mark":{"type":"text","align":"left","dx":6,"dy":-7.8,"fontSize":13,"fontWeight":"bold","lineHeight":15.6,"lineBreak":"|","color":"#111111"},"encoding":{"x":{"datum":-5.5,"type":"quantitative","scale":{"domain":[-5.5,4.5]},"axis":null},"y":{"datum":0.5,"type":"quantitative","scale":{"domain":[0,1]},"axis":null},"text":{"field":"t","type":"nominal"}}},
{"transform":[{"filter":"datum.c>0 && datum.t && !datum.s"}],"mark":{"type":"text","fontSize":14,"color":"#111111"},"encoding":{"x":{"field":"c","type":"quantitative","scale":{"domain":[-5.5,4.5]},"axis":null},"y":{"datum":0.5,"type":"quantitative","scale":{"domain":[0,1]},"axis":null},"text":{"field":"t","type":"nominal"}}},
{"transform":[{"filter":"datum.s"}],"mark":{"type":"text","fontSize":14,"dx":-3,"color":"#111111"},"encoding":{"x":{"field":"c","type":"quantitative","scale":{"domain":[-5.5,4.5]},"axis":null},"y":{"datum":0.5,"type":"quantitative","scale":{"domain":[0,1]},"axis":null},"text":{"field":"t","type":"nominal"}}},
{"transform":[{"filter":"datum.s"}],"mark":{"type":"text","fontSize":8,"align":"left","dx":2,"dy":-4,"color":"#111111"},"encoding":{"x":{"field":"c","type":"quantitative","scale":{"domain":[-5.5,4.5]},"axis":null},"y":{"datum":0.5,"type":"quantitative","scale":{"domain":[0,1]},"axis":null},"text":{"field":"s","type":"nominal"}}}
]},
{"width":321,"height":41,"transform":[{"filter":"datum.r==3"}],"layer":[
{"transform":[{"filter":"datum.c>0"}],"mark":{"type":"rule","color":"#e2e2e2","xOffset":-16},"encoding":{"x":{"field":"c","type":"quantitative","scale":{"domain":[-5.5,4.5]},"axis":null},"y":{"datum":0,"type":"quantitative","scale":{"domain":[0,1]},"axis":null},"y2":{"datum":1}}},
{"transform":[{"filter":"datum.c==0"}],"mark":{"type":"rule","color":"#e6e6e6"},"encoding":{"x":{"datum":-5.5,"type":"quantitative","scale":{"domain":[-5.5,4.5]},"axis":null},"x2":{"datum":4.5},"y":{"datum":0,"type":"quantitative","scale":{"domain":[0,1]},"axis":null}}},
{"transform":[{"filter":"datum.c==0"}],"mark":{"type":"text","align":"left","dx":6,"fontSize":13,"fontWeight":"bold","color":"#111111"},"encoding":{"x":{"datum":-5.5,"type":"quantitative","scale":{"domain":[-5.5,4.5]},"axis":null},"y":{"datum":0.5,"type":"quantitative","scale":{"domain":[0,1]},"axis":null},"text":{"field":"t","type":"nominal"}}},
{"transform":[{"filter":"datum.c>0 && datum.t && !datum.s"}],"mark":{"type":"text","fontSize":14,"color":"#111111"},"encoding":{"x":{"field":"c","type":"quantitative","scale":{"domain":[-5.5,4.5]},"axis":null},"y":{"datum":0.5,"type":"quantitative","scale":{"domain":[0,1]},"axis":null},"text":{"field":"t","type":"nominal"}}},
{"transform":[{"filter":"datum.s"}],"mark":{"type":"text","fontSize":14,"dx":-3,"color":"#111111"},"encoding":{"x":{"field":"c","type":"quantitative","scale":{"domain":[-5.5,4.5]},"axis":null},"y":{"datum":0.5,"type":"quantitative","scale":{"domain":[0,1]},"axis":null},"text":{"field":"t","type":"nominal"}}},
{"transform":[{"filter":"datum.s"}],"mark":{"type":"text","fontSize":8,"align":"left","dx":2,"dy":-4,"color":"#111111"},"encoding":{"x":{"field":"c","type":"quantitative","scale":{"domain":[-5.5,4.5]},"axis":null},"y":{"datum":0.5,"type":"quantitative","scale":{"domain":[0,1]},"axis":null},"text":{"field":"s","type":"nominal"}}}
]},
{"width":321,"height":32,"data":{"name":"fn"},"transform":[{"filter":"datum.tb=='C'"}],"layer":[
{"mark":{"type":"text","align":"right","dx":-6,"fontSize":13.5,"color":"#111111"},"encoding":{"x":{"datum":4.5,"type":"quantitative","scale":{"domain":[-5.5,4.5]},"axis":null},"y":{"field":"i","type":"ordinal","scale":{"type":"point","padding":0.5},"axis":null},"text":{"field":"t","type":"nominal"}}},
{"mark":{"type":"text","align":"right","dx":-256,"dy":-4,"fontSize":8,"color":"#111111"},"encoding":{"x":{"datum":4.5,"type":"quantitative","scale":{"domain":[-5.5,4.5]},"axis":null},"y":{"field":"i","type":"ordinal","scale":{"type":"point","padding":0.5},"axis":null},"text":{"field":"m","type":"nominal"}}}
]}
]}
]}
]
}
